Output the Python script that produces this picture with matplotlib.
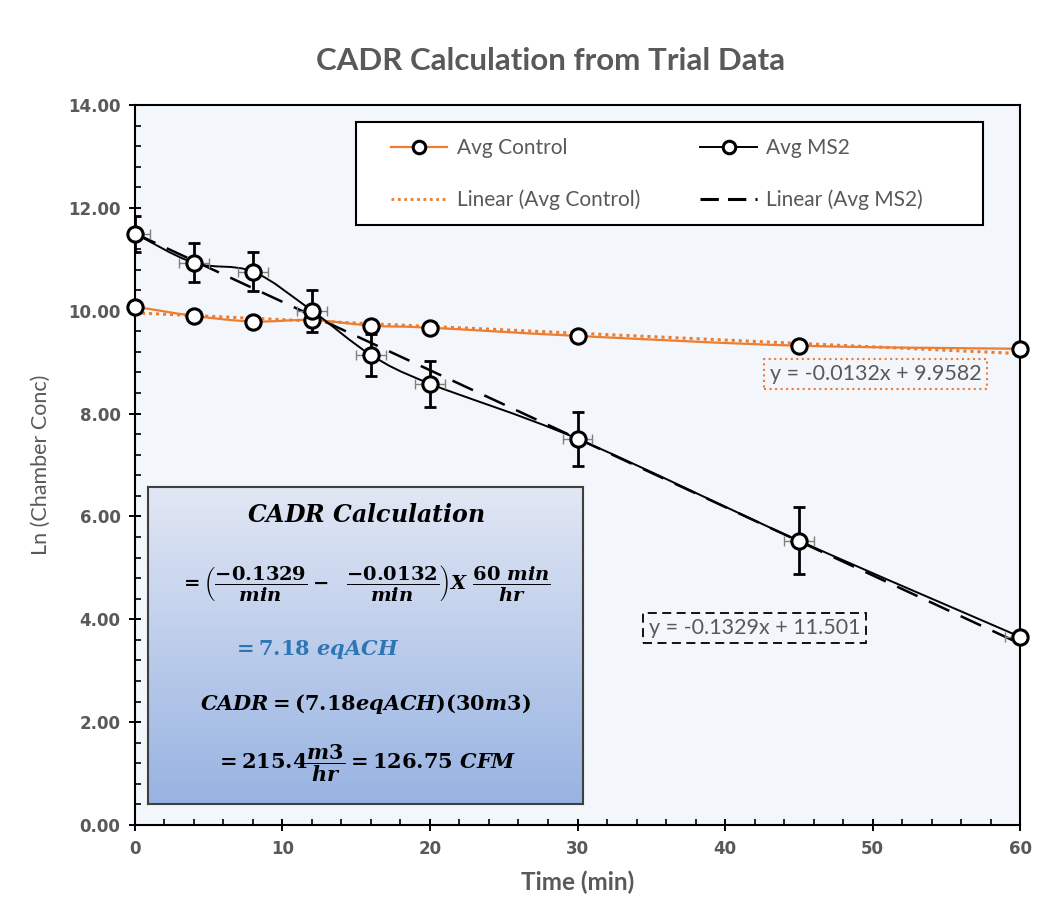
import matplotlib
matplotlib.use("Agg")
import matplotlib.pyplot as plt
import numpy as np
from matplotlib.lines import Line2D
from matplotlib.path import Path
from matplotlib.patches import PathPatch, Rectangle
from matplotlib.colors import LinearSegmentedColormap
from matplotlib.ticker import MultipleLocator, FormatStrFormatter

plt.rcParams['mathtext.fontset'] = 'custom'
plt.rcParams['mathtext.rm'] = 'DejaVu Serif:bold'
plt.rcParams['mathtext.it'] = 'DejaVu Serif:bold:italic'
plt.rcParams['mathtext.bf'] = 'DejaVu Serif:bold'

# Data
time_min = [0, 4, 8, 12, 16, 20, 30, 45, 60]
avg_control = [10.08, 9.90, 9.79, 9.82, 9.71, 9.67, 9.51, 9.32, 9.26]
avg_ms2 = [11.50, 10.93, 10.76, 10.00, 9.14, 8.58, 7.51, 5.53, 3.66]
ms2_yerr = [0.35, 0.38, 0.38, 0.41, 0.40, 0.45, 0.53, 0.65, 0.05]
ms2_xerr = [1.0, 1.0, 1.0, 1.0, 1.0, 1.0, 1.0, 1.0, 1.0]

# Linear trendline coefficients (slope, intercept)
control_fit = (-0.0132, 9.9582)
ms2_fit = (-0.1329, 11.501)

ORANGE = '#ED7D31'
GRAY = '#595959'
LABEL_FONT = 'Lato'


def smooth_path(x, y):
    # Excel-like smoothed line through the points (Catmull-Rom as Bezier)
    verts = [(x[0], y[0])]
    codes = [Path.MOVETO]
    n = len(x)
    for i in range(n - 1):
        p0 = i - 1 if i > 0 else i
        p3 = i + 2 if i + 2 < n else i + 1
        c1 = (x[i] + (x[i + 1] - x[p0]) / 6, y[i] + (y[i + 1] - y[p0]) / 6)
        c2 = (x[i + 1] - (x[p3] - x[i]) / 6, y[i + 1] - (y[p3] - y[i]) / 6)
        verts += [c1, c2, (x[i + 1], y[i + 1])]
        codes += [Path.CURVE4] * 3
    return Path(verts, codes)


fig = plt.figure(figsize=(10.48, 9.21), dpi=100)
ax = fig.add_axes([0.1288, 0.1042, 0.8445, 0.7818])
ax.set_facecolor('#F3F6FA')

# trendlines
xs = np.array([time_min[0], time_min[-1]])
ax.plot(xs, control_fit[0] * xs + control_fit[1], color=ORANGE, lw=2.2,
        linestyle=(0, (1, 1.3)), zorder=2)
ax.plot(xs, ms2_fit[0] * xs + ms2_fit[1], color='black', lw=1.8,
        linestyle=(0, (9, 5)), zorder=2)

# smoothed data lines
ax.add_patch(PathPatch(smooth_path(time_min, avg_control), facecolor='none',
                       edgecolor=ORANGE, lw=1.6, zorder=3))
ax.add_patch(PathPatch(smooth_path(time_min, avg_ms2), facecolor='none',
                       edgecolor='black', lw=1.4, zorder=3))

# error bars for MS2
ax.errorbar(time_min, avg_ms2, xerr=ms2_xerr, fmt='none', ecolor='#808080',
            elinewidth=1.0, capsize=3.5, capthick=1.0, zorder=4)
ax.errorbar(time_min, avg_ms2, yerr=ms2_yerr, fmt='none', ecolor='black',
            elinewidth=2.0, capsize=4.5, capthick=2.0, zorder=4)

# markers
ax.plot(time_min, avg_control, linestyle='none', marker='o', ms=11,
        mfc='white', mec='black', mew=2.2, zorder=5, clip_on=False)
ax.plot(time_min, avg_ms2, linestyle='none', marker='o', ms=11,
        mfc='white', mec='black', mew=2.2, zorder=5, clip_on=False)

ax.set_xlim(0, 60)
ax.set_ylim(0, 14)
ax.xaxis.set_major_locator(MultipleLocator(10))
ax.xaxis.set_minor_locator(MultipleLocator(2))
ax.yaxis.set_major_locator(MultipleLocator(2))
ax.yaxis.set_minor_locator(MultipleLocator(0.4))
ax.yaxis.set_major_formatter(FormatStrFormatter('%.2f'))
ax.tick_params(which='major', direction='inout', length=9, width=1.4,
               color='black', labelcolor=GRAY, labelsize=12, pad=6)
ax.tick_params(which='minor', direction='in', length=4, width=1.2, color='black')
for lab in ax.get_xticklabels() + ax.get_yticklabels():
    lab.set_fontweight('bold')
for sp in ax.spines.values():
    sp.set_linewidth(1.5)
    sp.set_color('black')

ax.set_xlabel('Time (min)', fontsize=17.5, fontweight='bold', color=GRAY,
              family=LABEL_FONT, labelpad=9)
ax.set_ylabel('Ln (Chamber Conc)', fontsize=15.5, color=GRAY,
              family=LABEL_FONT, labelpad=12)
fig.text(0.525, 0.934, 'CADR Calculation from Trial Data', ha='center',
         va='center', fontsize=22.5, fontweight='bold', color=GRAY,
         family=LABEL_FONT)

# legend
handles = [
    Line2D([], [], color=ORANGE, lw=1.6, marker='o', ms=9, mfc='white',
           mec='black', mew=2.2),
    Line2D([], [], color=ORANGE, lw=2.0, linestyle=(0, (1, 1.3))),
    Line2D([], [], color='black', lw=1.4, marker='o', ms=9, mfc='white',
           mec='black', mew=2.2),
    Line2D([], [], color='black', lw=2.2, linestyle=(0, (6, 3))),
]
labels = ['Avg Control', 'Linear (Avg Control)', 'Avg MS2', 'Linear (Avg MS2)']
ax.add_patch(Rectangle((0.2497, 0.833), 0.708, 0.143, transform=ax.transAxes,
                       facecolor='white', edgecolor='black', lw=1.5, zorder=6))
leg = ax.legend(handles, labels, ncol=2, loc='center left',
                bbox_to_anchor=(0.2893, 0.904), frameon=False,
                handlelength=2.7, handletextpad=0.45, columnspacing=2.9,
                labelspacing=1.5, borderpad=0, borderaxespad=0,
                prop={'family': LABEL_FONT, 'size': 15})
for t in leg.get_texts():
    t.set_color(GRAY)
leg.set_zorder(7)

# trendline equations
ax.text(50.2, 8.77, 'y = %.4fx + %.4f' % control_fit, ha='center', va='center',
        fontsize=15.5, color=GRAY, family=LABEL_FONT, zorder=6,
        bbox=dict(boxstyle='square,pad=0.25', facecolor='none', edgecolor=ORANGE,
                  linestyle=':', lw=1.5))
ax.text(42.0, 3.83, 'y = %.4fx + %.3f' % ms2_fit, ha='center', va='center',
        fontsize=15.5, color=GRAY, family=LABEL_FONT, zorder=6,
        bbox=dict(boxstyle='square,pad=0.25', facecolor='none', edgecolor='black',
                  linestyle=(0, (5, 3)), lw=1.3))

# CADR calculation box
bx = fig.add_axes([0.1412, 0.127, 0.415, 0.344])
grad = np.linspace(0, 1, 256).reshape(-1, 1)
cmap = LinearSegmentedColormap.from_list('box', ['#E1E7F4', '#98B3E2'])
bx.imshow(grad, aspect='auto', cmap=cmap, extent=[0, 1, 0, 1], origin='upper')
bx.set_xticks([])
bx.set_yticks([])
for sp in bx.spines.values():
    sp.set_linewidth(1.5)
    sp.set_color('#3F3F3F')

bx.text(0.5, 0.912, r'$CADR\ Calculation$', ha='center', va='center',
        fontsize=17, transform=bx.transAxes)
bx.text(0.5, 0.697,
        r'$=\left(\dfrac{-0.1329}{min}-\ \ \dfrac{-0.0132}{min}\right)X\ \dfrac{60\ min}{hr}$',
        ha='center', va='center', fontsize=14, transform=bx.transAxes)
bx.text(0.386, 0.489, r'$=7.18\ eqACH$', ha='center', va='center',
        fontsize=15, color='#2E75B6', transform=bx.transAxes)
bx.text(0.5, 0.315, r'$CADR=(7.18eqACH)(30m3)$', ha='center', va='center',
        fontsize=15, transform=bx.transAxes)
bx.text(0.5, 0.13, r'$=215.4\dfrac{m3}{hr}=126.75\ CFM$', ha='center',
        va='center', fontsize=15, transform=bx.transAxes)

fig.savefig('out.png', dpi=100, facecolor='white')
